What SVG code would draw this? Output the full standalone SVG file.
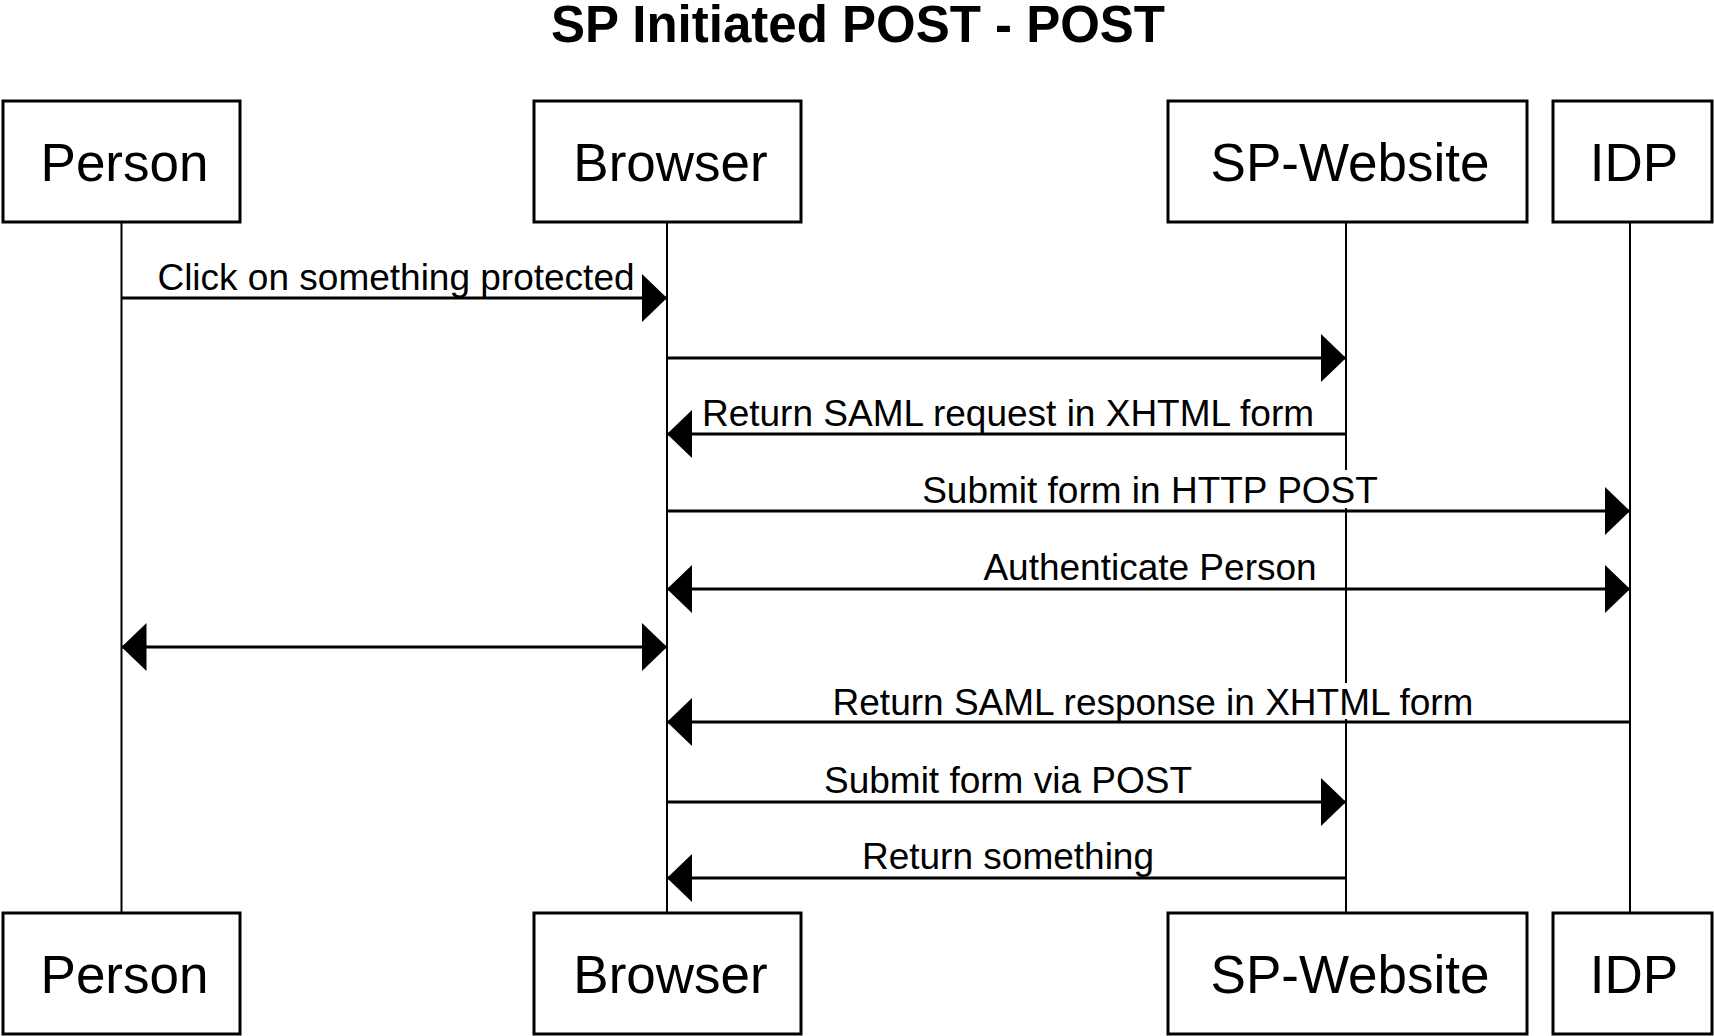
<svg xmlns="http://www.w3.org/2000/svg" width="1714" height="1036" viewBox="0 0 1714 1036">
  <style>
    .box { fill: #fff; stroke: #000; stroke-width: 3; }
    .name { font-family: "Liberation Sans", Arial, sans-serif; font-size: 53px; fill: #000; text-anchor: middle; }
    .life { stroke: #000; stroke-width: 2; fill: none; }
    .msg { stroke: #000; stroke-width: 3; fill: none; }
    .lbl { font-family: "Liberation Sans", Arial, sans-serif; font-size: 37px; fill: #000; text-anchor: middle; }
    .bg { fill: #fff; }
    .title { font-family: "Liberation Sans", Arial, sans-serif; font-size: 51px; font-weight: bold; fill: #000; text-anchor: middle; }
  </style>
  <defs>
    <marker id="ah" markerUnits="userSpaceOnUse" markerWidth="26" markerHeight="48" refX="25" refY="24" orient="auto-start-reverse" viewBox="0 0 26 48">
      <path d="M0,0 L25,24 L0,48 Z" fill="#000"/>
    </marker>
  </defs>
  <rect width="1714" height="1036" fill="#fff"/>
  <text class="title" x="858" y="42">SP Initiated POST - POST</text>

  <g id="lifelines">
    <line class="life" x1="121.5" y1="222" x2="121.5" y2="913"/>
    <line class="life" x1="667" y1="222" x2="667" y2="913"/>
    <line class="life" x1="1346" y1="222" x2="1346" y2="913"/>
    <line class="life" x1="1630" y1="222" x2="1630" y2="913"/>
  </g>

  <g id="person">
    <rect class="box" x="3" y="101" width="237" height="121"/>
    <text class="name" x="124.5" y="181">Person</text>
    <rect class="box" x="3" y="913" width="237" height="121"/>
    <text class="name" x="124.5" y="993">Person</text>
  </g>
  <g id="browser">
    <rect class="box" x="534" y="101" width="267" height="121"/>
    <text class="name" x="670.5" y="181">Browser</text>
    <rect class="box" x="534" y="913" width="267" height="121"/>
    <text class="name" x="670.5" y="993">Browser</text>
  </g>
  <g id="sp-website">
    <rect class="box" x="1168" y="101" width="359" height="121"/>
    <text class="name" x="1350" y="181">SP-Website</text>
    <rect class="box" x="1168" y="913" width="359" height="121"/>
    <text class="name" x="1350" y="993">SP-Website</text>
  </g>
  <g id="idp">
    <rect class="box" x="1553" y="101" width="159" height="121"/>
    <text class="name" x="1634" y="181">IDP</text>
    <rect class="box" x="1553" y="913" width="159" height="121"/>
    <text class="name" x="1634" y="993">IDP</text>
  </g>

  <g id="connectors">
    <line class="msg" x1="121.5" y1="298" x2="667" y2="298" marker-end="url(#ah)"/>
    <line class="msg" x1="667" y1="358" x2="1346" y2="358" marker-end="url(#ah)"/>
    <line class="msg" x1="1346" y1="434" x2="667" y2="434" marker-end="url(#ah)"/>
    <line class="msg" x1="667" y1="511" x2="1630" y2="511" marker-end="url(#ah)"/>
    <line class="msg" x1="667" y1="589" x2="1630" y2="589" marker-start="url(#ah)" marker-end="url(#ah)"/>
    <line class="msg" x1="121.5" y1="647" x2="667" y2="647" marker-start="url(#ah)" marker-end="url(#ah)"/>
    <line class="msg" x1="1630" y1="722" x2="667" y2="722" marker-end="url(#ah)"/>
    <line class="msg" x1="667" y1="802" x2="1346" y2="802" marker-end="url(#ah)"/>
    <line class="msg" x1="1346" y1="878" x2="667" y2="878" marker-end="url(#ah)"/>

    <text class="lbl" x="396" y="290">Click on something protected</text>
    <text class="lbl" x="1008" y="426">Return SAML request in XHTML form</text>
    <rect class="bg" x="925" y="470" width="452" height="38"/>
    <text class="lbl" x="1150" y="503">Submit form in HTTP POST</text>
    <text class="lbl" x="1150" y="580">Authenticate Person</text>
    <rect class="bg" x="830" y="683" width="646" height="36"/>
    <text class="lbl" x="1153" y="715">Return SAML response in XHTML form</text>
    <text class="lbl" x="1008" y="793">Submit form via POST</text>
    <text class="lbl" x="1008" y="869">Return something</text>
  </g>
</svg>
